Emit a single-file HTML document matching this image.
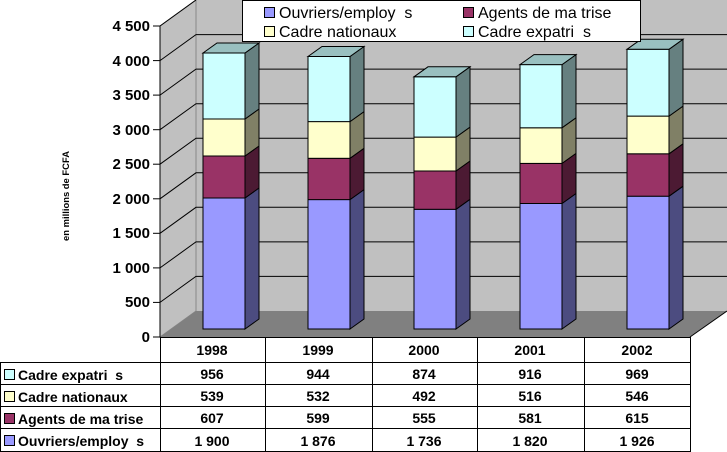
<!DOCTYPE html>
<html><head><meta charset="utf-8"><style>
body{margin:0;background:#fff;}
svg{display:block;font-family:"Liberation Sans",sans-serif;}
text{white-space:pre;}
.t{font-weight:bold;font-size:15px;}
.c{font-weight:bold;font-size:14px;text-anchor:middle;}
.l{font-weight:bold;font-size:14px;}
</style></head><body>
<svg width="727" height="452" viewBox="0 0 727 452" xml:space="preserve">
<polygon points="196,0 727,0 727,311 196,311" fill="#C0C0C0"/>
<polygon points="160,26 196,0 196,311 160,337" fill="#C0C0C0" stroke="#888" stroke-width="1"/>
<polygon points="160,337 196,311 727,311 690,337" fill="#808080"/>
<line x1="727" y1="311" x2="690" y2="337" stroke="#000"/>
<g stroke="#000" stroke-width="1" fill="none">
<polyline points="160,302.4 196,276.4 727,276.4"/>
<polyline points="160,267.9 196,241.9 727,241.9"/>
<polyline points="160,233.3 196,207.3 727,207.3"/>
<polyline points="160,198.8 196,172.8 727,172.8"/>
<polyline points="160,164.2 196,138.2 727,138.2"/>
<polyline points="160,129.7 196,103.7 727,103.7"/>
<polyline points="160,95.1 196,69.1 727,69.1"/>
<polyline points="160,60.6 196,34.6 727,34.6"/>
<polyline points="160,26 196,0"/>
<line x1="160" y1="26" x2="160" y2="337"/>
<line x1="153" y1="337" x2="160" y2="337"/><line x1="153" y1="302.4" x2="160" y2="302.4"/>
<line x1="153" y1="267.9" x2="160" y2="267.9"/><line x1="153" y1="233.3" x2="160" y2="233.3"/>
<line x1="153" y1="198.8" x2="160" y2="198.8"/><line x1="153" y1="164.2" x2="160" y2="164.2"/>
<line x1="153" y1="129.7" x2="160" y2="129.7"/><line x1="153" y1="95.1" x2="160" y2="95.1"/>
<line x1="153" y1="60.6" x2="160" y2="60.6"/><line x1="153" y1="26" x2="160" y2="26"/>
</g>
<g class="t" text-anchor="end">
<text x="150" y="342">0</text><text x="150" y="307">500</text><text x="150" y="273">1 000</text>
<text x="150" y="238">1 500</text><text x="150" y="204">2 000</text><text x="150" y="169">2 500</text>
<text x="150" y="135">3 000</text><text x="150" y="100">3 500</text><text x="150" y="66">4 000</text>
<text x="150" y="31">4 500</text>
</g>
<text transform="translate(69,196) rotate(-90)" text-anchor="middle" font-size="9" font-weight="bold" textLength="90" lengthAdjust="spacingAndGlyphs">en millions de FCFA</text>

<g stroke="#000" stroke-width="1">
<g transform="translate(203,0)">
<rect x="0" y="198" width="42" height="131" fill="#9999FF"/><polygon points="42,329 56,319 56,188 42,198" fill="#4C4C80"/>
<rect x="0" y="156" width="42" height="42" fill="#993366"/><polygon points="42,198 56,188 56,146 42,156" fill="#4C1A33"/>
<rect x="0" y="119" width="42" height="37" fill="#FFFFCC"/><polygon points="42,156 56,146 56,109 42,119" fill="#808066"/>
<rect x="0" y="53" width="42" height="66" fill="#CCFFFF"/><polygon points="42,119 56,109 56,43 42,53" fill="#668080"/>
<polygon points="0,53 14,43 56,43 42,53" fill="#99C0C0"/>
</g>
<g transform="translate(308,0)">
<rect x="0" y="199.6" width="42" height="129.4" fill="#9999FF"/><polygon points="42,329 56,319 56,189.6 42,199.6" fill="#4C4C80"/>
<rect x="0" y="158.3" width="42" height="41.3" fill="#993366"/><polygon points="42,199.6 56,189.6 56,148.3 42,158.3" fill="#4C1A33"/>
<rect x="0" y="121.6" width="42" height="36.7" fill="#FFFFCC"/><polygon points="42,158.3 56,148.3 56,111.6 42,121.6" fill="#808066"/>
<rect x="0" y="56.5" width="42" height="65.1" fill="#CCFFFF"/><polygon points="42,121.6 56,111.6 56,46.5 42,56.5" fill="#668080"/>
<polygon points="0,56.5 14,46.5 56,46.5 42,56.5" fill="#99C0C0"/>
</g>
<g transform="translate(414,0)">
<rect x="0" y="209.3" width="42" height="119.7" fill="#9999FF"/><polygon points="42,329 56,319 56,199.3 42,209.3" fill="#4C4C80"/>
<rect x="0" y="171" width="42" height="38.3" fill="#993366"/><polygon points="42,209.3 56,199.3 56,161 42,171" fill="#4C1A33"/>
<rect x="0" y="137.1" width="42" height="33.9" fill="#FFFFCC"/><polygon points="42,171 56,161 56,127.1 42,137.1" fill="#808066"/>
<rect x="0" y="76.8" width="42" height="60.3" fill="#CCFFFF"/><polygon points="42,137.1 56,127.1 56,66.8 42,76.8" fill="#668080"/>
<polygon points="0,76.8 14,66.8 56,66.8 42,76.8" fill="#99C0C0"/>
</g>
<g transform="translate(520,0)">
<rect x="0" y="203.5" width="42" height="125.5" fill="#9999FF"/><polygon points="42,329 56,319 56,193.5 42,203.5" fill="#4C4C80"/>
<rect x="0" y="163.4" width="42" height="40.1" fill="#993366"/><polygon points="42,203.5 56,193.5 56,153.4 42,163.4" fill="#4C1A33"/>
<rect x="0" y="127.8" width="42" height="35.6" fill="#FFFFCC"/><polygon points="42,163.4 56,153.4 56,117.8 42,127.8" fill="#808066"/>
<rect x="0" y="64.6" width="42" height="63.2" fill="#CCFFFF"/><polygon points="42,127.8 56,117.8 56,54.6 42,64.6" fill="#668080"/>
<polygon points="0,64.6 14,54.6 56,54.6 42,64.6" fill="#99C0C0"/>
</g>
<g transform="translate(627,0)">
<rect x="0" y="196.2" width="42" height="132.8" fill="#9999FF"/><polygon points="42,329 56,319 56,186.2 42,196.2" fill="#4C4C80"/>
<rect x="0" y="153.8" width="42" height="42.4" fill="#993366"/><polygon points="42,196.2 56,186.2 56,143.8 42,153.8" fill="#4C1A33"/>
<rect x="0" y="116.1" width="42" height="37.7" fill="#FFFFCC"/><polygon points="42,153.8 56,143.8 56,106.1 42,116.1" fill="#808066"/>
<rect x="0" y="49.3" width="42" height="66.8" fill="#CCFFFF"/><polygon points="42,116.1 56,106.1 56,39.3 42,49.3" fill="#668080"/>
<polygon points="0,49.3 14,39.3 56,39.3 42,49.3" fill="#99C0C0"/>
</g>
</g>

<rect x="242.5" y="0.5" width="398" height="41" fill="#fff" stroke="#000"/>
<g stroke="#000" stroke-width="1">
<rect x="264.5" y="7.5" width="10" height="10" fill="#9999FF"/>
<rect x="463.5" y="7.5" width="10" height="10" fill="#993366"/>
<rect x="264.5" y="26.5" width="10" height="10" fill="#FFFFCC"/>
<rect x="463.5" y="26.5" width="10" height="10" fill="#CCFFFF"/>
</g>
<g font-size="16">
<text x="279" y="18">Ouvriers/employ  s</text>
<text x="478" y="18">Agents de ma trise</text>
<text x="279" y="37">Cadre nationaux</text>
<text x="478" y="37">Cadre expatri  s</text>
</g>

<rect x="160" y="337" width="530" height="114" fill="#fff"/>
<g stroke="#000" stroke-width="1" fill="none">
<line x1="160" y1="337.5" x2="690" y2="337.5"/>
<line x1="0" y1="362.5" x2="690" y2="362.5"/>
<line x1="0" y1="384.5" x2="690" y2="384.5"/>
<line x1="0" y1="406.5" x2="690" y2="406.5"/>
<line x1="0" y1="428.5" x2="690" y2="428.5"/>
<line x1="0" y1="451.5" x2="690" y2="451.5"/>
<line x1="0.5" y1="362" x2="0.5" y2="452"/>
<line x1="160.5" y1="337" x2="160.5" y2="452"/>
<line x1="265.5" y1="337" x2="265.5" y2="452"/>
<line x1="372.5" y1="337" x2="372.5" y2="452"/>
<line x1="477.5" y1="337" x2="477.5" y2="452"/>
<line x1="584.5" y1="337" x2="584.5" y2="452"/>
<line x1="690.5" y1="337" x2="690.5" y2="452"/>
</g>
<g stroke="#000" stroke-width="1">
<rect x="4.5" y="369.5" width="10" height="10" fill="#CCFFFF"/>
<rect x="4.5" y="391.5" width="10" height="10" fill="#FFFFCC"/>
<rect x="4.5" y="413.5" width="10" height="10" fill="#993366"/>
<rect x="4.5" y="435.5" width="10" height="10" fill="#9999FF"/>
</g>
<g class="l">
<text x="18" y="380">Cadre expatri  s</text>
<text x="18" y="402">Cadre nationaux</text>
<text x="18" y="424">Agents de ma trise</text>
<text x="18" y="446">Ouvriers/employ  s</text>
</g>
<g class="c">
<text x="212" y="355">1998</text><text x="318" y="355">1999</text><text x="424" y="355">2000</text><text x="530" y="355">2001</text><text x="637" y="355">2002</text>
<text x="212" y="379">956</text><text x="318" y="379">944</text><text x="424" y="379">874</text><text x="530" y="379">916</text><text x="637" y="379">969</text>
<text x="212" y="401">539</text><text x="318" y="401">532</text><text x="424" y="401">492</text><text x="530" y="401">516</text><text x="637" y="401">546</text>
<text x="212" y="423">607</text><text x="318" y="423">599</text><text x="424" y="423">555</text><text x="530" y="423">581</text><text x="637" y="423">615</text>
<text x="212" y="446">1 900</text><text x="318" y="446">1 876</text><text x="424" y="446">1 736</text><text x="530" y="446">1 820</text><text x="637" y="446">1 926</text>
</g>
</svg>
</body></html>
